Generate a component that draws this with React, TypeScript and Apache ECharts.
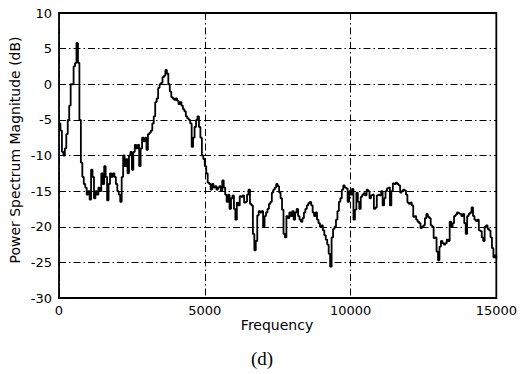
import React, { useEffect, useRef } from "react";
import * as echarts from "echarts";

// Frequency bins (Hz) of the spectrum estimate
const binWidthHz = 50;
const freqMin = 0;
const freqMax = 15000;
const freqTicks = [0, 5000, 10000, 15000];
const dbTicks = [10, 5, 0, -5, -10, -15, -20, -25, -30];

// Power spectrum magnitude (dB), one value per 50 Hz bin from 0 to 15000 Hz
const powerDb = [
  -5.5, -6.5, -9.5, -10, -9, -7, -5, -3, 0, 0,
  2.5, 3, 5.8, 3, -5, -11, -13, -14, -14.5, -15.5,
  -15, -16.2, -12, -13, -16, -15, -15.5, -14.5, -15, -12.5,
  -14, -11.5, -13, -16.3, -14, -12.5, -13, -12.5, -13, -14,
  -15, -15.5, -16.5, -13, -10, -11.5, -10.5, -12.5, -10, -9.5,
  -12, -9.5, -8.5, -9, -8.5, -11.5, -9, -7.5, -8, -7.5,
  -9.2, -7, -6.8, -6.5, -5.5, -4.5, -2.5, -2, -0.5, 0,
  0.2, 1, 1.2, 2, 1.5, 0, -1, -1.8, -2, -2.2,
  -2, -2.3, -2.8, -2.5, -3, -3.5, -3.8, -4.5, -4.8, -5,
  -5.5, -8.8, -7.5, -6, -5, -4.5, -6, -7.5, -10, -10.5,
  -11.5, -12.5, -13.8, -14, -14.8, -14, -14.5, -14.3, -14.8, -14.5,
  -14.3, -15, -13.5, -14.5, -15.5, -16.5, -15.5, -17.5, -16, -15.6,
  -17.5, -19, -16.6, -17, -15.7, -15.8, -15.6, -16.6, -16.5, -15.5,
  -14.8, -16.8, -17, -21, -23.3, -22, -18.4, -17.8, -18, -17.8,
  -20, -18.5, -18, -17.5, -16.8, -16.5, -15.2, -14.8, -14.5, -14,
  -14.3, -15.2, -16, -17.6, -21, -21.5, -18.5, -18.8, -18, -18.5,
  -17.8, -19, -18, -17.5, -18.5, -19, -19.3, -18.8, -18, -17.5,
  -17, -16.7, -16.5, -17, -18, -18.5, -18, -19, -19.5, -20,
  -19.8, -20.5, -21.2, -21.8, -22.5, -23.8, -25.6, -21.5, -20.3, -20,
  -19, -17.8, -16.5, -16, -14.8, -14.2, -14.5, -14.6, -16.5, -15,
  -15.5, -14.7, -19, -17.6, -15.2, -16.5, -17.5, -15.8, -15.5, -15.3,
  -15.6, -14.8, -15, -16, -15.6, -15.5, -17.5, -17.3, -15.6, -15.5,
  -15.6, -15, -17, -16, -15, -14.6, -14.5, -17, -15, -13.9,
  -14, -13.8, -14, -14.2, -15.2, -15, -14.8, -14.9, -15.5, -16.6,
  -16.8, -16.6, -17, -18.6, -18.5, -19, -19.3, -19.5, -20.2, -20,
  -19.8, -18.8, -18.2, -18.6, -18.8, -19.8, -20, -21.6, -21.5, -23.5,
  -24.7, -22.8, -22, -22.3, -22.5, -22.3, -21.8, -22, -19.3, -20,
  -19.5, -18.5, -18.3, -18, -18.1, -18.2, -18.5, -18.2, -19.5, -21,
  -18.5, -18.2, -18, -17.3, -18.5, -19, -19.2, -19, -20.5, -20.6,
  -21.5, -22, -20, -19.8, -20.3, -20.5, -21.5, -23, -24.3, -24,
  -24.5,
];

const yAxisTitle = "Power Spectrum Magnitude (dB)";
const xAxisTitle = "Frequency";
const panelTag = "(d)";

const SANS = "DejaVu Sans, Liberation Sans, sans-serif";
const gridDash = [7, 3, 1.5, 3];

export default function App() {
  const ref = useRef<HTMLDivElement>(null);

  useEffect(() => {
    document.body.style.margin = "0";
    const el = ref.current;
    if (!el) return;
    const chart = echarts.init(el, null, { renderer: "svg" });

    const points = powerDb.map((v, i) => [freqMin + i * binWidthHz, v]);
    const dbMin = dbTicks[dbTicks.length - 1];
    const dbMax = dbTicks[0];

    chart.setOption({
      animation: false,
      backgroundColor: "#fff",
      grid: {
        left: 59,
        right: 23,
        top: 13,
        bottom: 76,
        show: true,
        borderColor: "#000",
        borderWidth: 1.8,
        backgroundColor: "#fff",
      },
      xAxis: {
        type: "value",
        min: freqTicks[0],
        max: freqMax,
        interval: freqTicks[1] - freqTicks[0],
        axisLine: { show: false },
        axisTick: { show: true, inside: true, length: 4, lineStyle: { color: "#000" } },
        axisLabel: {
          color: "#000",
          fontFamily: SANS,
          fontSize: 13,
          margin: 6,
          showMinLabel: true,
          showMaxLabel: true,
          formatter: (v: number) => String(v),
        },
        splitLine: {
          show: true,
          lineStyle: { color: "#000", width: 1, type: gridDash },
        },
      },
      yAxis: {
        type: "value",
        min: dbMin,
        max: dbMax,
        interval: 5,
        axisLine: { show: false },
        axisTick: { show: true, inside: true, length: 4, lineStyle: { color: "#000" } },
        axisLabel: {
          color: "#000",
          fontFamily: SANS,
          fontSize: 13,
          margin: 7,
          showMinLabel: true,
          showMaxLabel: true,
          formatter: (v: number) => String(v),
        },
        splitLine: {
          show: true,
          lineStyle: { color: "#000", width: 1, type: gridDash },
        },
      },
      series: [
        {
          type: "line",
          data: points,
          step: "end",
          showSymbol: false,
          symbol: "none",
          lineStyle: { color: "#000", width: 1.8 },
          z: 3,
        },
      ],
      graphic: [
        {
          type: "text",
          x: 15,
          y: 150,
          rotation: Math.PI / 2,
          style: {
            text: yAxisTitle,
            fill: "#000",
            font: `14px ${SANS}`,
            align: "center",
            verticalAlign: "middle",
          },
        },
        {
          type: "text",
          x: 277,
          y: 325,
          style: {
            text: xAxisTitle,
            fill: "#000",
            font: `14px ${SANS}`,
            align: "center",
            verticalAlign: "middle",
          },
        },
        {
          type: "text",
          x: 262,
          y: 358,
          style: {
            text: panelTag,
            fill: "#000",
            font: `19px Liberation Serif, DejaVu Serif, serif`,
            align: "center",
            verticalAlign: "middle",
          },
        },
      ],
    });

    return () => chart.dispose();
  }, []);

  return <div ref={ref} style={{ width: 520, height: 374 }} />;
}
